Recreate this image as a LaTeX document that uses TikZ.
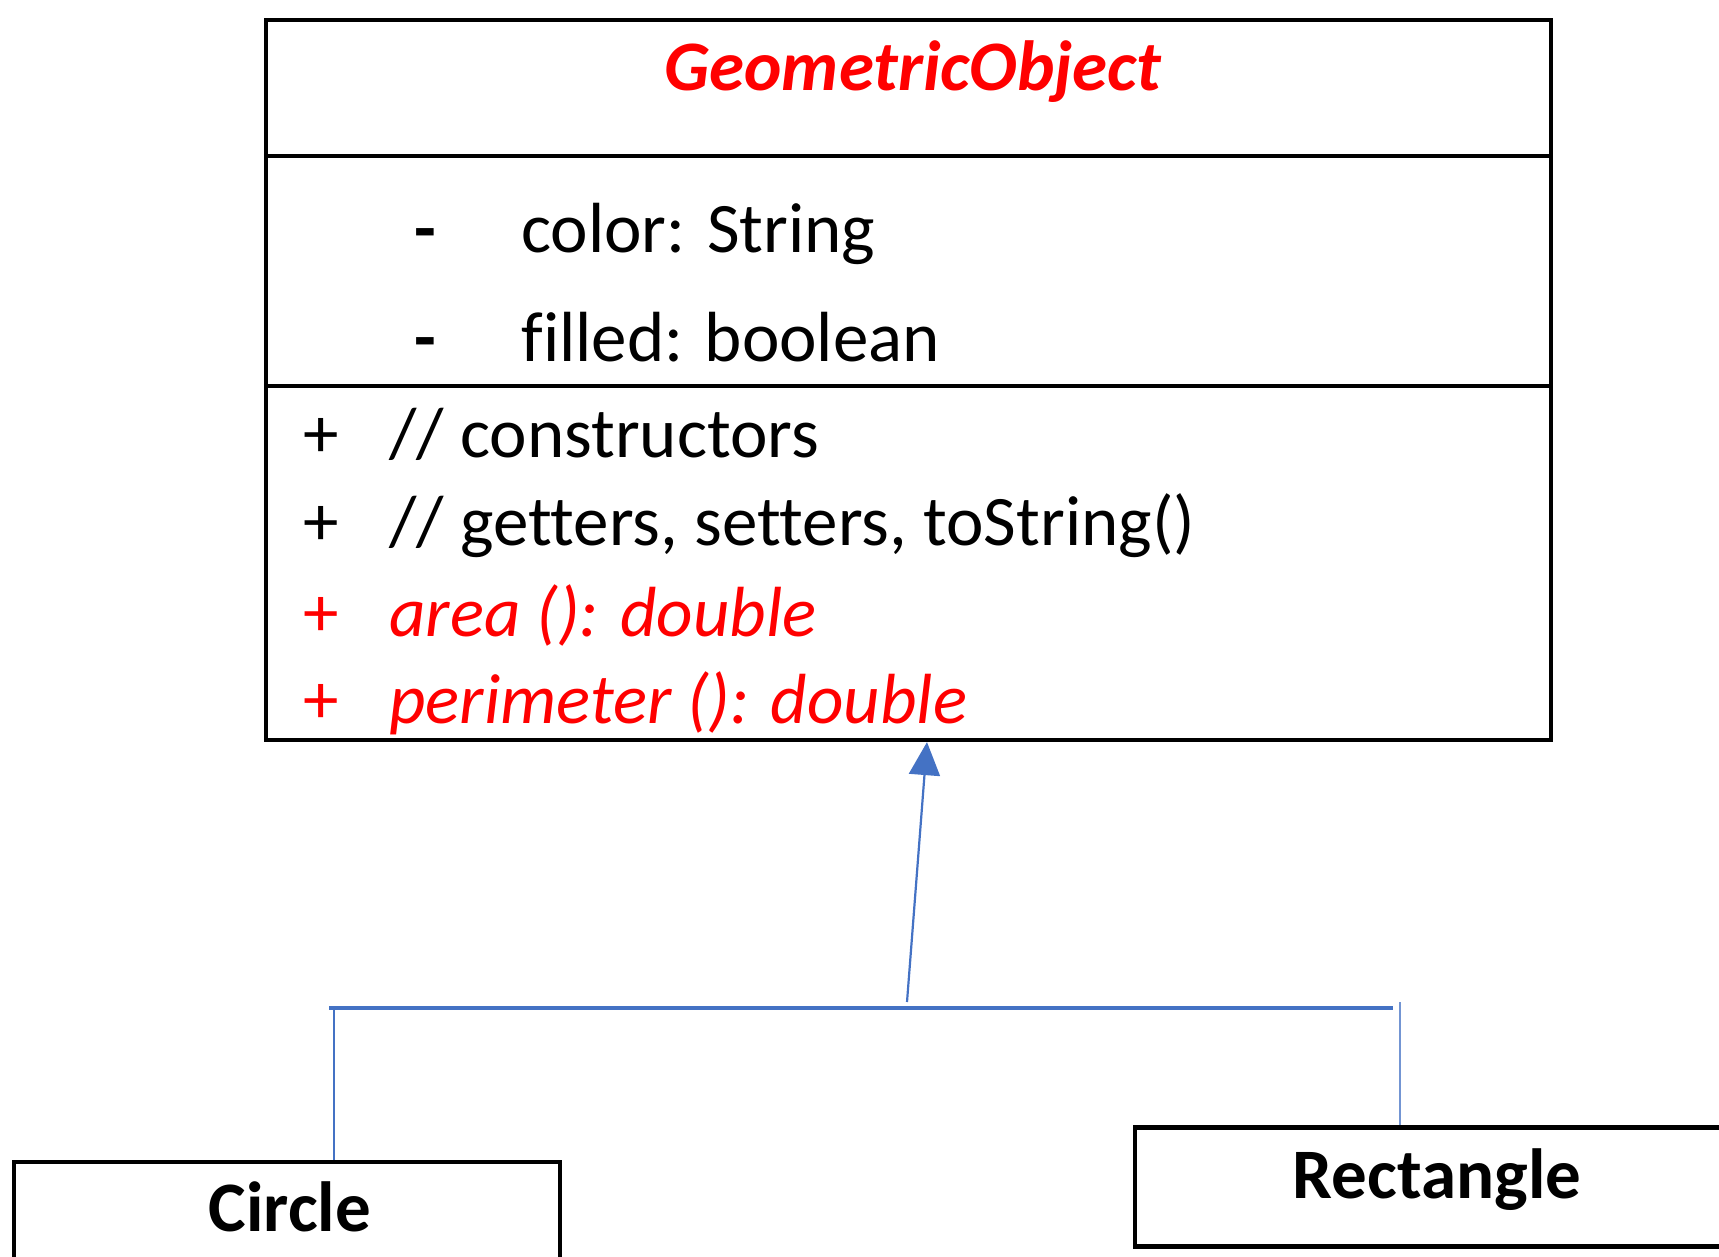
\documentclass[tikz,border=0pt]{standalone}
\usepackage{fontspec}
\setmainfont{Carlito}[Ligatures=CommonOff]
\usetikzlibrary{arrows.meta}
\definecolor{umlblue}{HTML}{4472C4}
\definecolor{umlred}{HTML}{FF0000}
\begin{document}
\begin{tikzpicture}[x=0.5pt,y=-0.5pt,
  box/.style={draw=black,line width=2.1pt,rectangle,inner sep=0pt},
  txt/.style={anchor=base west,inner sep=0pt,font=\fontsize{35.5pt}{40pt}\selectfont},
  ctxt/.style={anchor=base,inner sep=0pt,font=\fontsize{35.5pt}{40pt}\selectfont\bfseries},
  conn/.style={draw=umlblue,line width=1.1pt},
  bar/.style={draw=umlblue,line width=2pt}]
\useasboundingbox (0,0) rectangle (1719,1257);
\clip (0,0) rectangle (1719,1257);
% main class box
\node[box,minimum width=642.5pt,minimum height=360pt] (geo) at (908.5,380) {};
\draw[line width=2.1pt] (geo.west |- 0,156) coordinate (d1l) -- (geo.east |- 0,156) coordinate (d1r);
\draw[line width=2.1pt] (geo.west |- 0,386) coordinate (d2l) -- (geo.east |- 0,386) coordinate (d2r);
\node[ctxt,text=umlred] (title) at (913,91) {\itshape GeometricObject};
\node[txt] (a1d) at (414,253) {\textbf{-}};
\node[txt] (a1) at (521,253) {color: String};
\node[txt] (a2d) at (414,362) {\textbf{-}};
\node[txt] (a2) at (521,362) {filled: boolean};
\node[txt] (m1p) at (303,457) {+};
\node[txt] (m1) at (389,457) {// constructors};
\node[txt] (m2p) at (303,545) {+};
\node[txt] (m2) at (389,545) {// getters, setters, toString()};
\node[txt,text=umlred] (m3p) at (303,636) {+};
\node[txt,text=umlred] (m3) at (389,636) {\itshape area (): double};
\node[txt,text=umlred] (m4p) at (303,723) {+};
\node[txt,text=umlred] (m4) at (389,723) {\itshape perimeter (): double};
% subclasses
\node[box,minimum width=273pt,minimum height=66pt] (circ) at (287,1228) {};
\node[ctxt] (circt) at (290,1231) {Circle};
\node[box,minimum width=302.5pt,minimum height=59.5pt] (rect) at (1437.5,1187) {};
\node[ctxt] (rectt) at (1437,1198) {Rectangle};
% connectors
\coordinate (jl) at (329,1008);
\coordinate (jr) at (1393,1008);
\coordinate (cl) at (334,1008);
\coordinate (rt) at (1400,1002);
\coordinate (jm) at (907,1002);
\coordinate (tip) at (927,740);
\draw[bar] (jl) -- (jr);
\draw[conn] (cl) -- (cl |- circ.north);
\draw[conn,draw=umlblue!75] (rt) -- (rt |- rect.north);
\draw[conn,-{Triangle[length=16.5pt,width=15.5pt]},fill=umlblue] (jm) -- (tip |- geo.south);
\end{tikzpicture}
\end{document}
